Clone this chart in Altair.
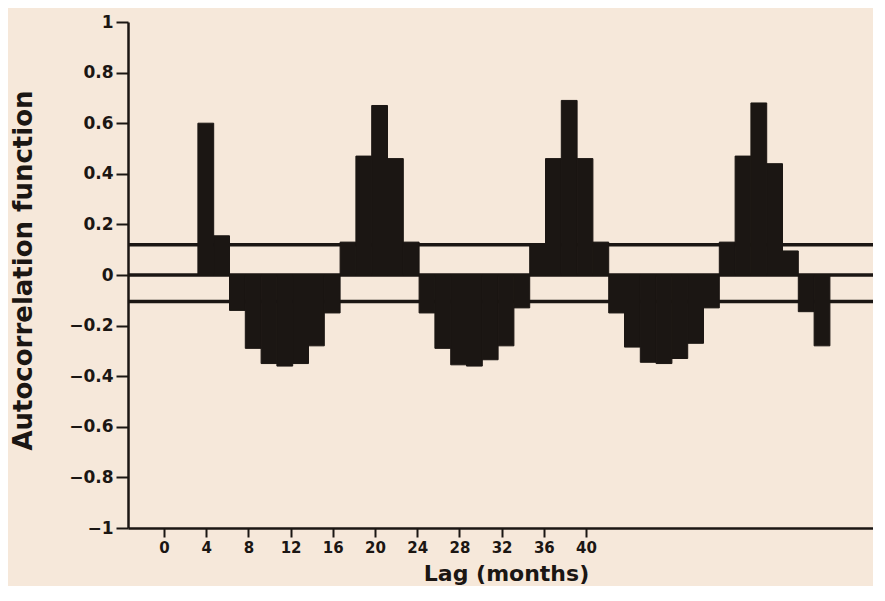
import altair as alt
import pandas as pd

# ---- data ----
lags = list(range(1, 41))
acf_values = [0.60, 0.155, -0.14, -0.29, -0.35, -0.36, -0.35, -0.28, -0.15, 0.13,
              0.47, 0.67, 0.46, 0.13, -0.15, -0.29, -0.355, -0.36, -0.335, -0.28,
              -0.13, 0.12, 0.46, 0.69, 0.46, 0.13, -0.15, -0.285, -0.345, -0.35,
              -0.33, -0.27, -0.13, 0.13, 0.47, 0.68, 0.44, 0.095, -0.145, -0.28]
lag_tick_labels = [0, 4, 8, 12, 16, 20, 24, 28, 32, 36, 40]
acf_ticks = [-1, -0.8, -0.6, -0.4, -0.2, 0, 0.2, 0.4, 0.6, 0.8, 1]
limit_names = ["upper limit", "zero", "lower limit"]
limit_values = [0.12, 0.0, -0.105]

INK = "#1b1613"
BG = "#f6e8da"
FONT = "DejaVu Sans"

acf_df = pd.DataFrame({"lag": lags, "acf": acf_values})
limits_df = pd.DataFrame({"name": limit_names, "value": limit_values})
ticks_df = pd.DataFrame({"tick": lag_tick_labels})

y_scale = alt.Scale(domain=[-1, 1], nice=False, zero=False)
y_axis = alt.Axis(
    values=acf_ticks, format=".1~f", title="Autocorrelation function", grid=False,
    domainColor=INK, domainWidth=2.5, tickColor=INK, tickWidth=2, tickSize=12,
    labelFont=FONT, labelFontWeight="bold", labelFontSize=17, labelColor=INK,
    labelPadding=3, labelFlush=False, labelOverlap=False,
    titleFont=FONT, titleFontWeight="bold", titleFontSize=26, titleColor=INK,
    titleAngle=270, titleX=-105, titleY=248, titleAlign="center", titleBaseline="middle",
)
x_axis = alt.Axis(
    values=lag_tick_labels, title="Lag (months)", orient="bottom", grid=False,
    domainColor=INK, domainWidth=2.5, tickColor=INK, tickWidth=2, tickSize=9,
    labelFont=FONT, labelFontWeight="bold", labelFontSize=15, labelColor=INK,
    labelPadding=3, labelFlush=False, labelOverlap=False,
    titleFont=FONT, titleFontWeight="bold", titleFontSize=22, titleColor=INK,
    titleX=378, titleY=45, titleAlign="center", titleBaseline="middle",
)

bar_scale = alt.Scale(domain=[-3.924, 43.227], nice=False, zero=False)
label_scale = alt.Scale(domain=[-3.412, 67.2], nice=False, zero=False)

rules = alt.Chart(limits_df).mark_rule(color=INK, strokeWidth=3.5).encode(
    y=alt.Y("value:Q", scale=y_scale, axis=y_axis)
)

bars = alt.Chart(acf_df).transform_calculate(
    lo="datum.lag - 0.5", hi="datum.lag + 0.5", base="0"
).mark_bar(color=INK, stroke=INK, strokeWidth=1).encode(
    x=alt.X("lo:Q", scale=bar_scale, axis=None),
    x2="hi:Q",
    y=alt.Y("acf:Q", scale=y_scale, axis=y_axis),
    y2="base:Q",
)

tick_layer = alt.Chart(ticks_df).mark_point(opacity=0).encode(
    x=alt.X("tick:Q", scale=label_scale, axis=x_axis),
    y=alt.value(0),
)

chart = alt.layer(rules, bars, tick_layer).resolve_scale(x="independent").properties(
    width=745,
    height=506,
    autosize=alt.AutoSizeParams(type="none"),
    padding={"left": 120, "top": 14, "right": 0, "bottom": 58},
    background=BG,
).configure_view(strokeWidth=0)

chart.save("out.html", embed_options={"renderer": "svg", "actions": False})
